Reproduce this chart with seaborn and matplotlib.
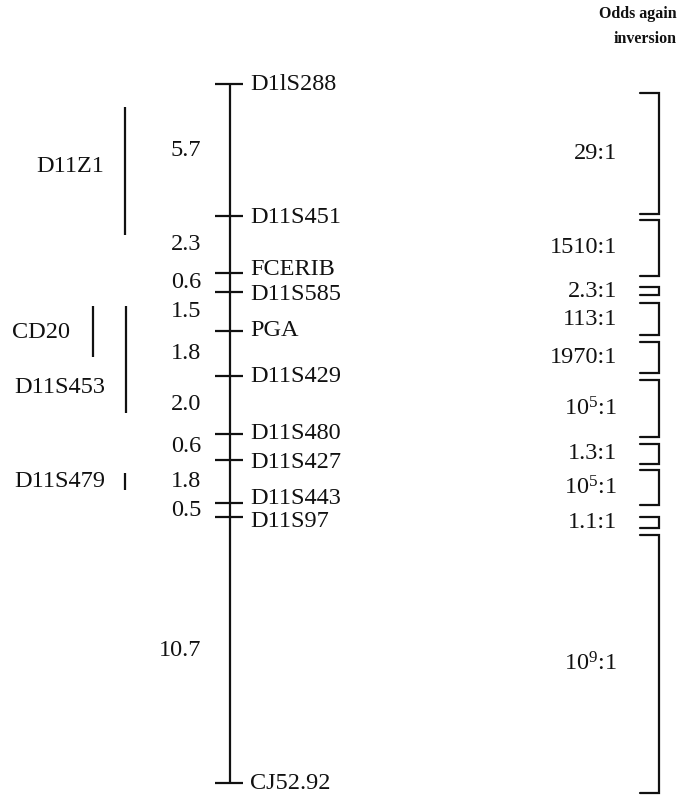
import numpy as np
import pandas as pd
import seaborn as sns
import matplotlib.pyplot as plt

# marker order along the map, with positions as drawn (map units from the top marker)
markers = ["D1lS288", "D11S451", "FCERIB", "D11S585", "PGA", "D11S429",
           "D11S480", "D11S427", "D11S443", "D11S97", "CJ52.92"]
marker_pos = [0.0, 5.41, 7.75, 8.52, 10.12, 11.97, 14.34, 15.41, 17.17, 17.75, 28.65]
# small vertical nudges so crowded labels do not collide (pixels)
label_nudge = [0, 1, -4, 3, 0, 0, 0, 2, -4, 4, 0]

# genetic distances between neighbouring markers (cM)
distances = ["5.7", "2.3", "0.6", "1.5", "1.8", "2.0", "0.6", "1.8", "0.5", "10.7"]

# odds against inversion for each interval, with bracket spans
odds = ["29:1", "1510:1", "2.3:1", "113:1", "1970:1", "10$^5$:1",
        "1.3:1", "10$^5$:1", "1.1:1", "10$^9$:1"]
bracket_start = [0.37, 5.57, 8.32, 8.98, 10.57, 12.13, 14.75, 15.82, 17.75, 18.48]
bracket_end = [5.33, 7.87, 8.65, 10.29, 11.84, 14.47, 15.57, 17.25, 18.20, 29.06]

# loci placed beside the map
groups = ["D11Z1", "CD20", "D11S453", "D11S479"]
group_start = [0.94, 9.10, 9.10, 15.94]
group_end = [6.19, 11.19, 13.48, 16.64]
group_label_pos = [3.40, 10.20, 12.42, 16.31]

df = pd.DataFrame({"marker": markers, "pos": marker_pos, "nudge": label_nudge})
iv = pd.DataFrame({"dist": distances, "odds": odds,
                   "mid": (df["pos"].values[:-1] + df["pos"].values[1:]) / 2,
                   "b0": bracket_start, "b1": bracket_end})

sns.set_theme(style="white")
plt.rcParams["font.family"] = ["Liberation Serif", "DejaVu Serif"]
plt.rcParams["mathtext.fontset"] = "custom"
plt.rcParams["mathtext.rm"] = "Liberation Serif"
plt.rcParams["mathtext.it"] = "Liberation Serif"

ink = "#111111"
fs = 17.5
px = 24.4   # pixels per map unit
top = 84    # pixel row of first marker

fig = plt.figure(figsize=(6.93, 7.96), dpi=100)
ax = fig.add_axes([0, 0, 1, 1])
ax.set_xlim(0, 693)
ax.set_ylim((796 - top) / px, -top / px)
ax.axis("off")

# main map line and marker ticks
x_map = 230
ax.vlines(x_map, df["pos"].min(), df["pos"].max(), color=ink, lw=1.6)
ax.hlines(df["pos"], x_map - 15, x_map + 13, color=ink, lw=1.6)
for _, r in df.iterrows():
    ax.text(250, r["pos"] + r["nudge"] / px, r["marker"], ha="left", va="center",
            fontsize=fs, color=ink)

# distances
for _, r in iv.iterrows():
    ax.text(201, r["mid"], r["dist"], ha="right", va="center", fontsize=fs, color=ink)

# odds brackets
xb = 659
for _, r in iv.iterrows():
    ax.plot([xb - 19, xb, xb, xb - 19], [r["b0"], r["b0"], r["b1"], r["b1"]],
            color=ink, lw=1.6, solid_joinstyle="miter")
    ax.text(617, (r["b0"] + r["b1"]) / 2, r["odds"], ha="right", va="center",
            fontsize=fs, color=ink)

# side loci
bar_x = [125, 93, 126, 125]
label_right = [104, 70, 105, 105]
for g, s, e, lp, bx, lr in zip(groups, group_start, group_end, group_label_pos, bar_x, label_right):
    ax.vlines(bx, s, e, color=ink, lw=1.6)
    ax.text(lr, lp, g, ha="right", va="center", fontsize=fs, color=ink)

fig.text(677 / 693, 1 - 14 / 796, "Odds again", ha="right", va="center",
         fontsize=11.5, fontweight="bold", color=ink)
fig.text(677 / 693, 1 - 39 / 796, "inversion", ha="right", va="center",
         fontsize=11.5, fontweight="bold", color=ink)

plt.savefig("out.png", dpi=100)
